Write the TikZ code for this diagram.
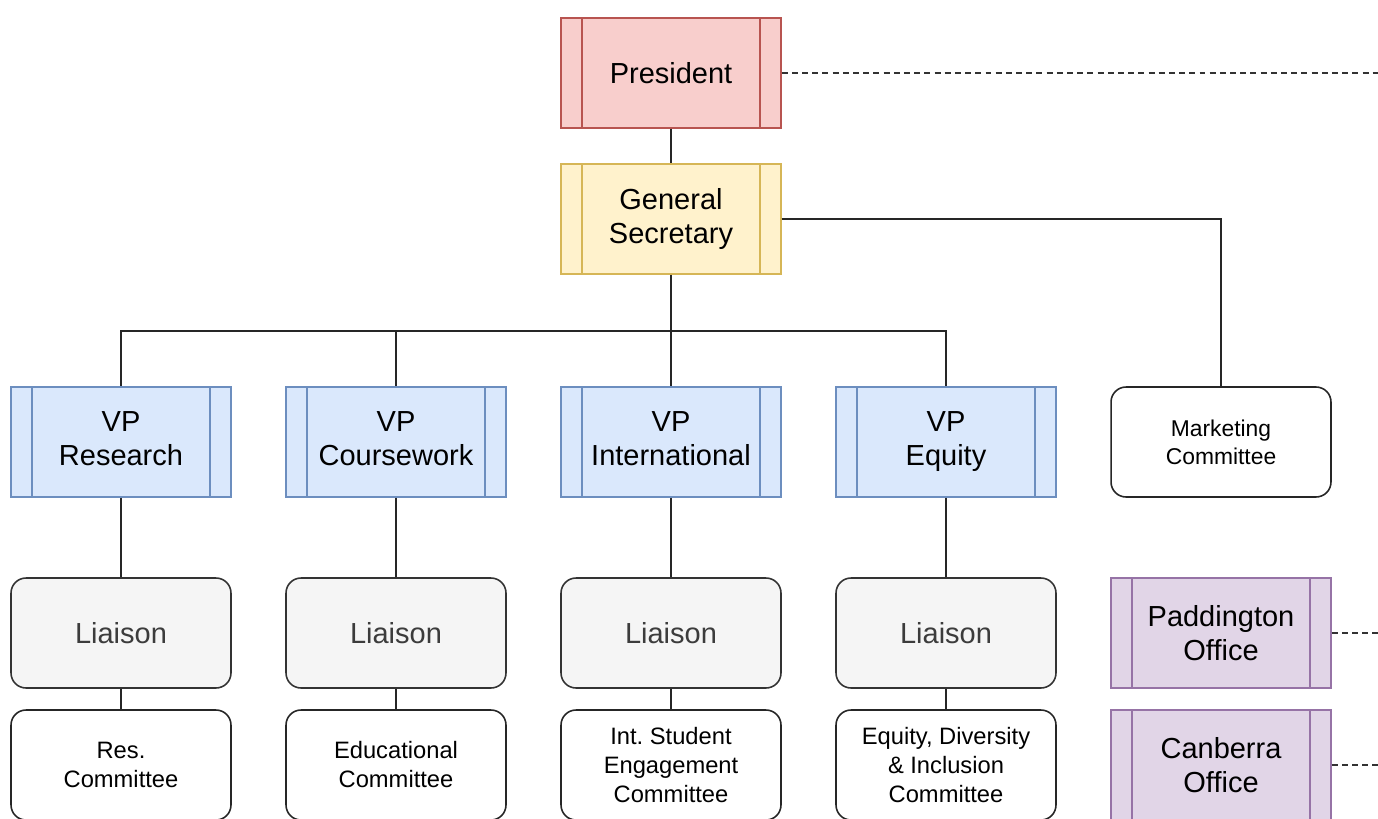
\documentclass[tikz,border=0pt]{standalone}
\usepackage{fontspec}
\setmainfont{Liberation Sans}
\frenchspacing
\usetikzlibrary{positioning}

\definecolor{pres fill}{HTML}{F8CECC}
\definecolor{pres line}{HTML}{B85450}
\definecolor{gs fill}{HTML}{FFF2CC}
\definecolor{gs line}{HTML}{D6B656}
\definecolor{vp fill}{HTML}{DAE8FC}
\definecolor{vp line}{HTML}{6C8EBF}
\definecolor{office fill}{HTML}{E1D5E7}
\definecolor{office line}{HTML}{9673A6}
\definecolor{liaison fill}{HTML}{F5F5F5}
\definecolor{liaison text}{HTML}{3C3C3C}
\tikzset{
  process/.style={rectangle, draw=#1, line width=0.8pt, minimum width=4.4cm,
    minimum height=2.2cm, inner sep=0pt, align=center,
    font=\fontsize{16.5}{19}\selectfont,
    path picture={
      \draw[#1, line width=0.8pt] ([xshift=0.42cm]path picture bounding box.north west) -- ([xshift=0.42cm]path picture bounding box.south west);
      \draw[#1, line width=0.8pt] ([xshift=-0.42cm]path picture bounding box.north east) -- ([xshift=-0.42cm]path picture bounding box.south east);
    }},
  roundbox/.style={rectangle, rounded corners=0.3cm, line width=0.9pt,
    minimum width=4.4cm, minimum height=2.2cm, inner sep=0pt, align=center}
}
\tikzstyle{liaison} = [roundbox, draw=black!80, fill=liaison fill, text=liaison text, font=\fontsize{16.5}{19}\selectfont]
\tikzstyle{committee} = [roundbox, draw=black!85, fill=white, font=\fontsize{13.5}{16.5}\selectfont]
\tikzstyle{edge} = [draw, line width=0.9pt, black!85]
\tikzstyle{dashed edge} = [draw, line width=0.8pt, black!80, dash pattern=on 3.4pt off 2.4pt]

\begin{document}
\begin{tikzpicture}[x=0.02cm, y=-0.02cm]

    % Page frame
    \path[use as bounding box, clip] (0,0) rectangle (1378,818);

    % The top of the tree
    \node[process=pres line, fill=pres fill] (pres) at (671,73) {President};
    \node[process=gs line, fill=gs fill] (gs) at (671,219) {General\\Secretary};
    \coordinate (bus) at (671,331);

    % The vice presidents
    \foreach \xpos/\name/\txt in {121/vpres/Research, 396/vpcw/Coursework, 671/vpint/International, 946/vpeq/Equity} {
      \node[process=vp line, fill=vp fill] (\name) at (\xpos,442) {\strut VP\\\strut\txt};
    }

    % The liaisons and their committees
    \foreach \xpos/\name in {121/lres, 396/lcw, 671/lint, 946/leq} {
      \node[liaison] (\name) at (\xpos,633) {Liaison};
    }
    \foreach \xpos/\name/\txt in {121/cres/{Res.\\Committee}, 396/ccw/{Educational\\Committee}, 671/cint/{Int. Student\\Engagement\\Committee}, 946/ceq/{Equity, Diversity\\\& Inclusion\\Committee}} {
      \node[committee] (\name) at (\xpos,765) {\txt};
    }

    % Marketing and the offices
    \node[committee, font=\fontsize{13}{16}\selectfont] (mkt) at (1221,442) {Marketing\\Committee};
    \node[process=office line, fill=office fill] (padd) at (1221,633) {Paddington\\Office};
    \node[process=office line, fill=office fill] (canb) at (1221,765) {Canberra\\Office};

    % Off-page ends of the dashed links
    \coordinate (presend) at (1378,73);
    \coordinate (paddend) at (1378,633);
    \coordinate (canbend) at (1378,765);

    % The connections between them
    \path[edge] (pres) -- (gs);
    \path[edge] (gs) -- (bus);
    \foreach \vp in {vpres, vpcw, vpint, vpeq} {
      \path[edge] (bus) -| (\vp.north);
    }
    \path[edge] (gs.east) -| (mkt.north);
    \foreach \source/\mid/\sink in {vpres/lres/cres, vpcw/lcw/ccw, vpint/lint/cint, vpeq/leq/ceq} {
      \path[edge] (\source) -- (\mid);
      \path[edge] (\mid) -- (\sink);
    }
    \foreach \source/\sink in {pres/presend, padd/paddend, canb/canbend} {
      \path[dashed edge] (\source.east) -- (\sink);
    }
\end{tikzpicture}
\end{document}
